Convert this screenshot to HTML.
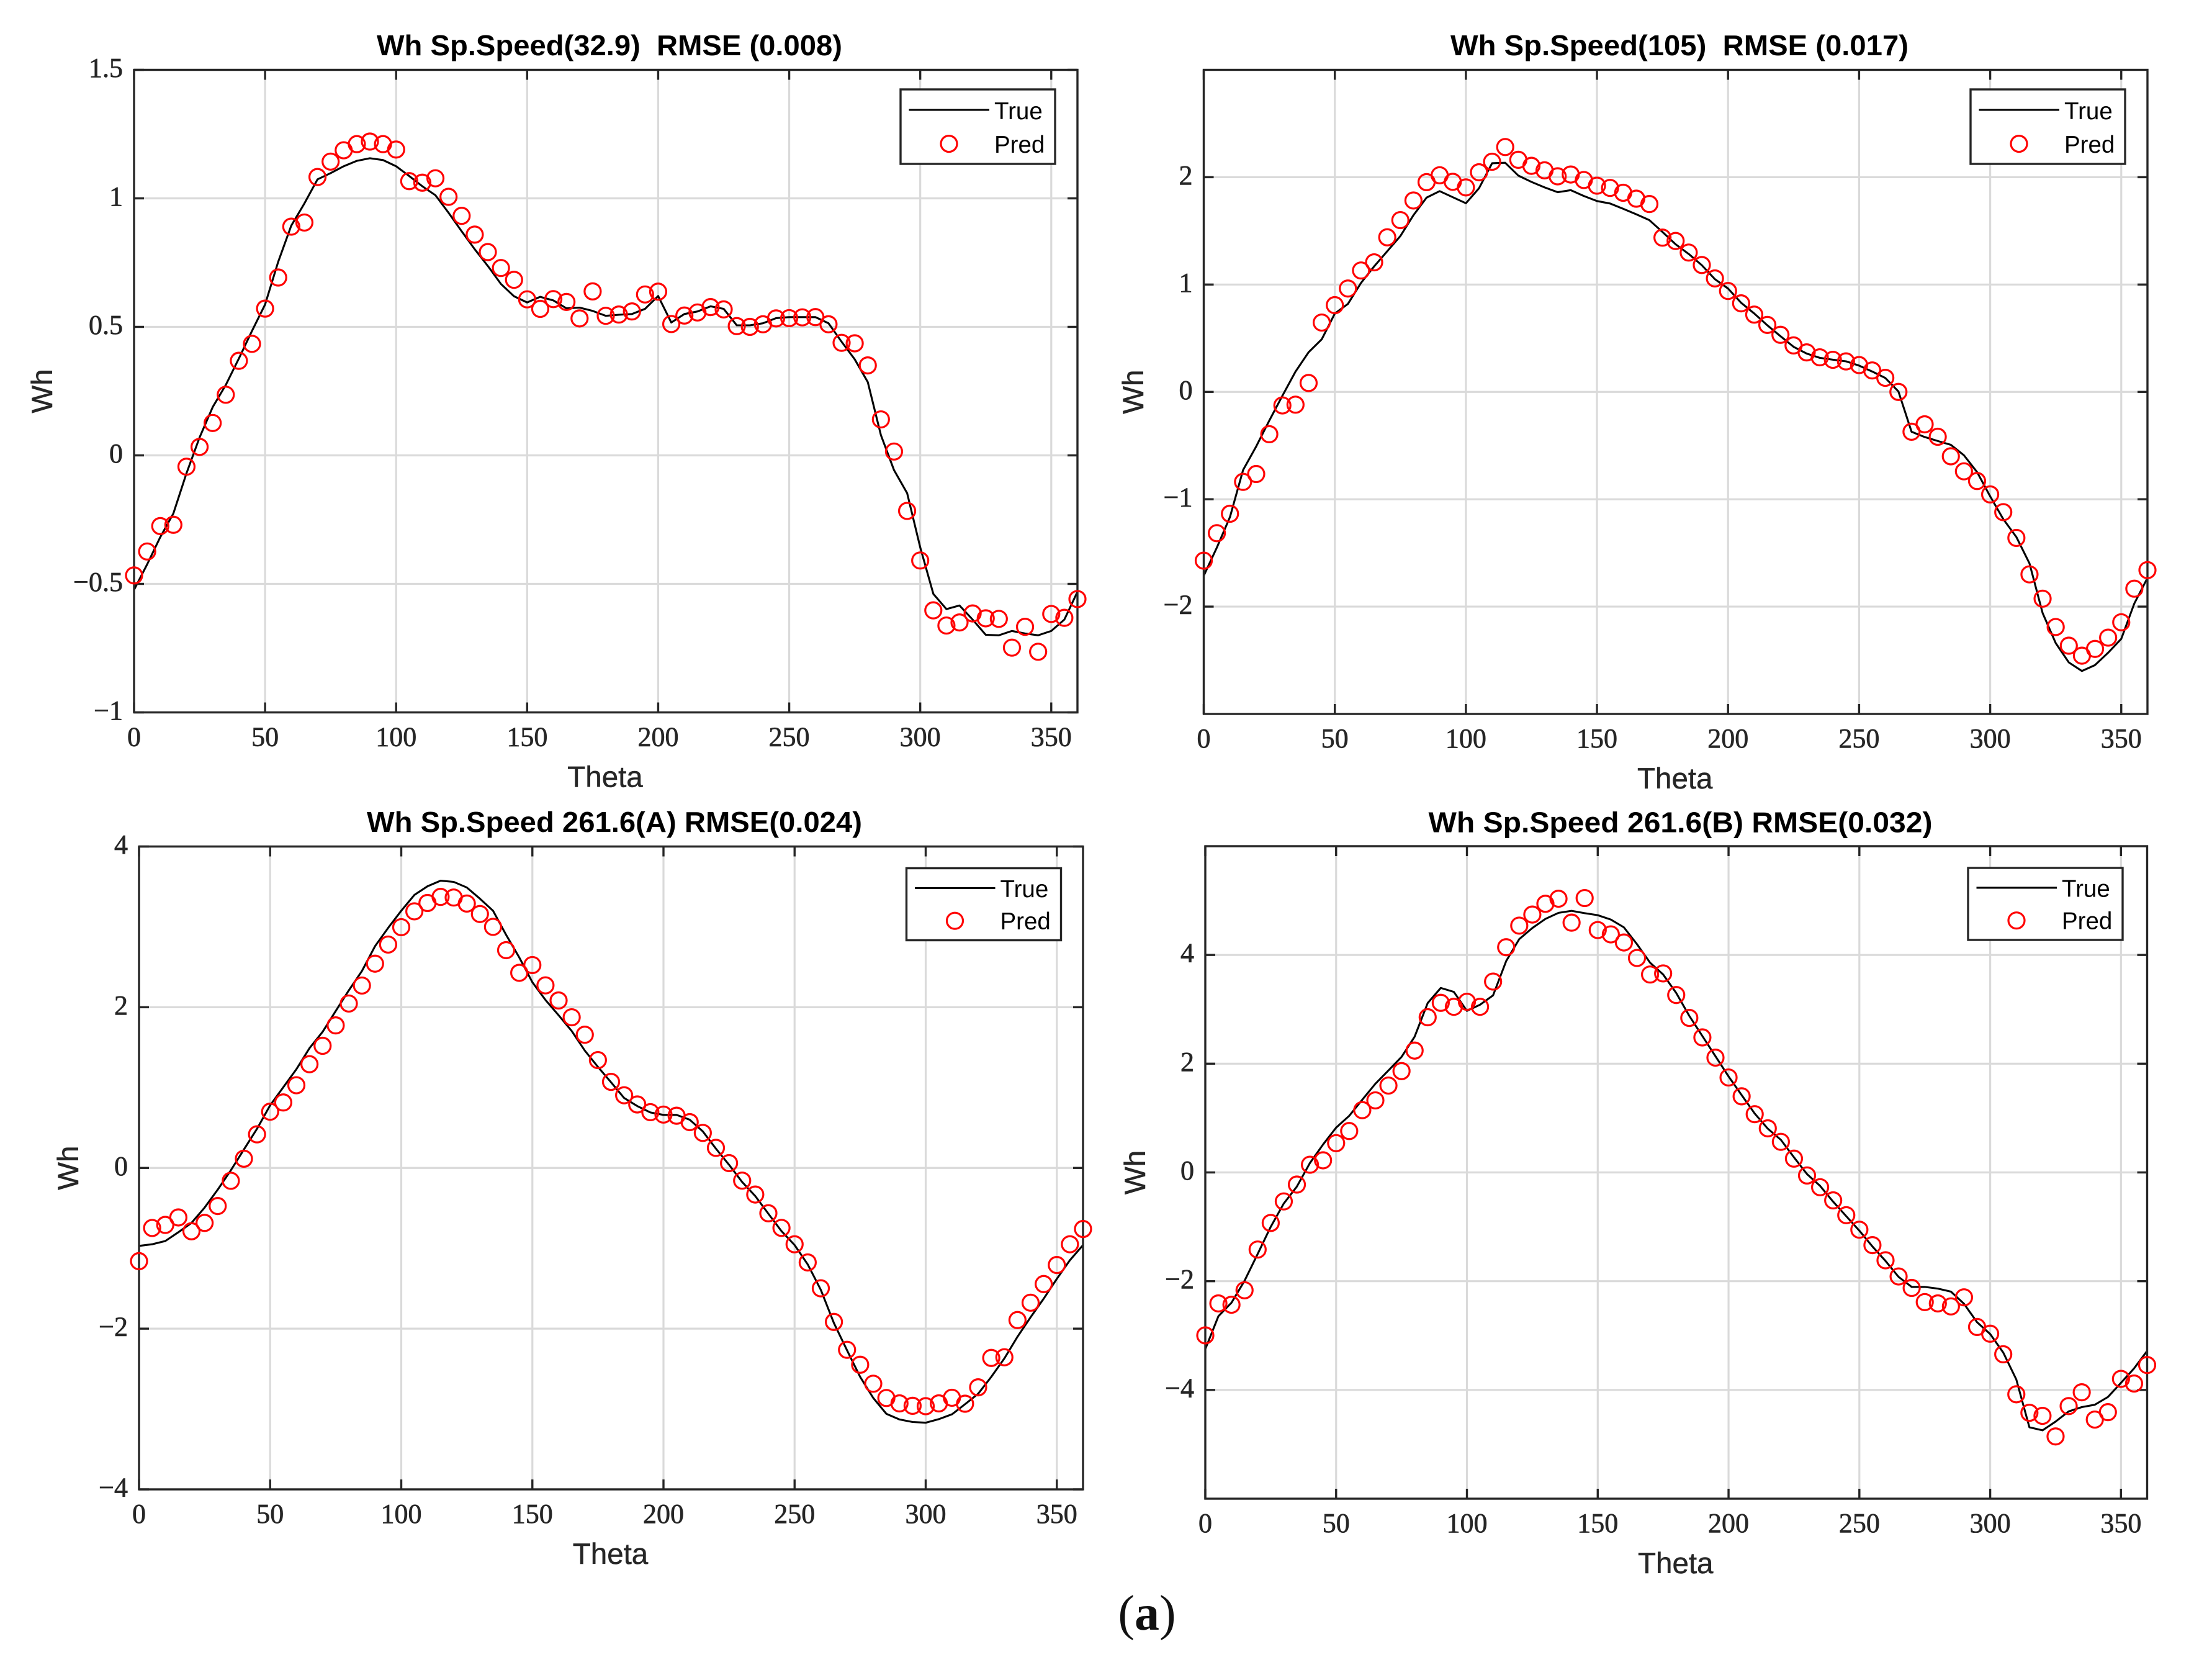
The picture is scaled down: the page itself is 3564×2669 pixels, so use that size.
<!DOCTYPE html>
<html lang="en">
<head>
<meta charset="utf-8">
<title>Wh prediction versus truth at four speeds</title>
<style>
html,body{margin:0;padding:0;background:#fff;}
#figure{display:block;width:3564px;height:2669px;}
text{white-space:pre;}
.tick-label{font-family:"Liberation Serif",serif;font-size:44px;fill:#262626;stroke:#262626;stroke-width:0.7px;}
.axis-label{font-family:"Liberation Sans",sans-serif;font-size:47.5px;fill:#262626;stroke:#262626;stroke-width:0.5px;}
.panel-title{font-family:"Liberation Sans",sans-serif;font-size:46px;font-weight:bold;fill:#000;}
.legend-label{font-family:"Liberation Sans",sans-serif;font-size:38.5px;fill:#000;}
.caption{font-family:"Liberation Serif",serif;font-size:80px;fill:#111;}
</style>
</head>
<body>
<svg id="figure" xmlns="http://www.w3.org/2000/svg" width="3564" height="2669" viewBox="0 0 3564 2669">
<rect x="0" y="0" width="3564" height="2669" fill="#ffffff"/>
<text class="caption" x="1848" y="2625" text-anchor="middle">(<tspan font-weight="bold">a</tspan>)</text>
</svg>
<script>
const thetaValues = [0,5,10,15,20,25,30,35,40,45,50,55,60,65,70,75,80,85,90,95,100,105,110,115,120,125,130,135,140,145,150,155,160,165,170,175,180,185,190,195,200,205,210,215,220,225,230,235,240,245,250,255,260,265,270,275,280,285,290,295,300,305,310,315,320,325,330,335,340,345,350,355,360];
const xTickValues = [0,50,100,150,200,250,300,350];

const yTicksA = [-1,-0.5,0,0.5,1,1.5];
const yTicksB = [-2,-1,0,1,2];
const yTicksC = [-4,-2,0,2,4];
const yTicksD = [-4,-2,0,2,4];

const trueA = [-0.523,-0.424,-0.318,-0.226,-0.07,0.07,0.188,0.274,0.377,0.484,0.587,0.753,0.894,0.98,1.074,1.098,1.125,1.146,1.156,1.149,1.125,1.087,1.047,1.012,0.944,0.872,0.802,0.737,0.667,0.619,0.595,0.617,0.603,0.572,0.575,0.562,0.543,0.547,0.55,0.57,0.62,0.517,0.55,0.56,0.58,0.57,0.506,0.506,0.514,0.534,0.538,0.538,0.538,0.514,0.442,0.374,0.285,0.079,-0.057,-0.147,-0.358,-0.539,-0.598,-0.584,-0.639,-0.698,-0.7,-0.683,-0.693,-0.7,-0.683,-0.639,-0.531];
const predA = [-0.467,-0.374,-0.275,-0.27,-0.044,0.033,0.126,0.236,0.368,0.434,0.571,0.692,0.89,0.906,1.083,1.143,1.187,1.211,1.221,1.211,1.19,1.067,1.061,1.078,1.006,0.932,0.859,0.791,0.729,0.683,0.607,0.57,0.608,0.597,0.533,0.638,0.543,0.548,0.56,0.626,0.637,0.511,0.544,0.556,0.577,0.568,0.503,0.5,0.51,0.533,0.534,0.537,0.538,0.51,0.438,0.436,0.35,0.14,0.015,-0.216,-0.409,-0.603,-0.662,-0.65,-0.615,-0.634,-0.636,-0.748,-0.667,-0.764,-0.617,-0.632,-0.559];

const trueB = [-1.712,-1.45,-1.166,-0.727,-0.508,-0.267,-0.036,0.189,0.369,0.49,0.73,0.82,1.015,1.169,1.311,1.452,1.646,1.81,1.87,1.814,1.757,1.897,2.13,2.134,2.015,1.956,1.905,1.86,1.879,1.825,1.778,1.755,1.706,1.654,1.6,1.49,1.375,1.285,1.18,1.05,0.963,0.83,0.73,0.62,0.519,0.42,0.357,0.317,0.3,0.285,0.245,0.19,0.13,0.004,-0.371,-0.42,-0.457,-0.493,-0.59,-0.747,-0.973,-1.185,-1.352,-1.597,-2.06,-2.34,-2.52,-2.6,-2.545,-2.43,-2.3,-1.97,-1.734];
const predB = [-1.572,-1.316,-1.135,-0.838,-0.765,-0.394,-0.126,-0.119,0.083,0.646,0.808,0.963,1.131,1.207,1.44,1.6,1.783,1.954,2.018,1.957,1.905,2.046,2.144,2.281,2.162,2.106,2.064,2.008,2.025,1.974,1.921,1.9,1.855,1.8,1.75,1.437,1.406,1.298,1.182,1.057,0.94,0.825,0.72,0.624,0.532,0.433,0.368,0.322,0.299,0.284,0.25,0.2,0.131,0,-0.371,-0.302,-0.418,-0.6,-0.74,-0.83,-0.955,-1.12,-1.36,-1.7,-1.926,-2.19,-2.364,-2.457,-2.394,-2.289,-2.146,-1.833,-1.66];

const trueC = [-0.97,-0.95,-0.91,-0.8,-0.684,-0.494,-0.27,-0.03,0.23,0.487,0.78,1.004,1.228,1.49,1.694,1.953,2.21,2.45,2.76,2.987,3.2,3.397,3.505,3.574,3.56,3.49,3.35,3.2,2.9,2.62,2.31,2.09,1.9,1.705,1.46,1.257,1.066,0.87,0.77,0.69,0.66,0.66,0.6,0.455,0.24,0.04,-0.175,-0.35,-0.57,-0.785,-0.96,-1.2,-1.517,-1.93,-2.27,-2.6,-2.863,-3.06,-3.13,-3.162,-3.17,-3.126,-3.066,-2.94,-2.81,-2.6,-2.37,-2.1,-1.858,-1.627,-1.38,-1.148,-0.96];
const predC = [-1.16,-0.747,-0.709,-0.616,-0.788,-0.684,-0.474,-0.16,0.115,0.418,0.7,0.815,1.029,1.291,1.52,1.774,2.046,2.27,2.542,2.78,2.996,3.193,3.297,3.373,3.365,3.29,3.16,3,2.71,2.428,2.525,2.272,2.084,1.875,1.658,1.342,1.071,0.904,0.79,0.694,0.664,0.65,0.57,0.436,0.25,0.06,-0.158,-0.331,-0.564,-0.746,-0.95,-1.176,-1.498,-1.916,-2.263,-2.449,-2.685,-2.863,-2.93,-2.96,-2.965,-2.93,-2.86,-2.934,-2.73,-2.364,-2.356,-1.893,-1.677,-1.445,-1.208,-0.95,-0.76];

const trueD = [-3.25,-2.644,-2.396,-1.994,-1.5,-1,-0.57,-0.26,0.173,0.514,0.824,1.04,1.337,1.63,1.876,2.124,2.495,3.115,3.393,3.32,2.972,3.084,3.257,3.889,4.291,4.495,4.663,4.774,4.811,4.768,4.731,4.65,4.508,4.198,3.858,3.64,3.3,2.879,2.508,2.136,1.765,1.424,1.084,0.805,0.6,0.279,-0.031,-0.248,-0.539,-0.805,-1.071,-1.362,-1.628,-1.92,-2.105,-2.105,-2.136,-2.192,-2.415,-2.755,-2.972,-3.313,-3.808,-4.687,-4.743,-4.582,-4.396,-4.316,-4.272,-4.13,-3.87,-3.604,-3.282];
const predD = [-2.997,-2.409,-2.433,-2.167,-1.418,-0.929,-0.533,-0.223,0.142,0.223,0.539,0.762,1.146,1.325,1.598,1.864,2.241,2.854,3.12,3.046,3.139,3.046,3.51,4.142,4.539,4.743,4.941,5.034,4.594,5.046,4.458,4.378,4.229,3.944,3.64,3.66,3.263,2.842,2.483,2.111,1.746,1.4,1.071,0.811,0.563,0.254,-0.056,-0.272,-0.514,-0.786,-1.053,-1.337,-1.616,-1.913,-2.124,-2.384,-2.409,-2.464,-2.297,-2.842,-2.966,-3.344,-4.08,-4.42,-4.477,-4.855,-4.297,-4.043,-4.545,-4.409,-3.796,-3.882,-3.542];

const titleA = "Wh Sp.Speed(32.9)  RMSE (0.008)";
const titleB = "Wh Sp.Speed(105)  RMSE (0.017)";
const titleC = "Wh Sp.Speed 261.6(A) RMSE(0.024)";
const titleD = "Wh Sp.Speed 261.6(B) RMSE(0.032)";

const svgNS = "http://www.w3.org/2000/svg";
const figure = document.getElementById("figure");

function make(parent, tag, props, content) {
  const el = document.createElementNS(svgNS, tag);
  for (const k in props) el.setAttribute(k, props[k]);
  if (content !== undefined) el.textContent = content;
  parent.appendChild(el);
  return el;
}

function formatTick(v) {
  return v < 0 ? "\u2212" + Math.abs(v) : String(v);
}

function drawPanel(cfg) {
  const g = make(figure, "g", {});
  
  

  const L = cfg.left, R = cfg.right, T = cfg.top, B = cfg.bottom;
  const xScale = function (v) { return L + (v - 0) / (360 - 0) * (R - L); };
  const yScale = function (v) { return B - (v - cfg.yMin) / (cfg.yMax - cfg.yMin) * (B - T); };

  const gridColor = "#dadada";
  const axisColor = "#262626";

  cfg.xTicks.forEach(function (v) {
    const x = xScale(v);
    if (v !== 0) {
      const gl = make(g, "line", {x1: x, x2: x, y1: T, y2: B, stroke: gridColor, "stroke-width": 3.2});
      
      
    }
  });
  cfg.yTicks.forEach(function (v) {
    const y = yScale(v);
    const gl = make(g, "line", {x1: L, x2: R, y1: y, y2: y, stroke: gridColor, "stroke-width": 3.2});
    
    
  });

  const pts = cfg.theta.map(function (t, i) { return xScale(t).toFixed(1) + "," + yScale(cfg.trueValues[i]).toFixed(1); }).join(" ");
  const line = make(g, "polyline", {points: pts, fill: "none", stroke: "#000", "stroke-width": 3.1, "stroke-linejoin": "round"});
  
  

  const box = make(g, "rect", {x: L, y: T, width: R - L, height: B - T, fill: "none", stroke: axisColor, "stroke-width": 3.4});
  
  

  cfg.xTicks.forEach(function (v) {
    const x = xScale(v);
    const t1 = make(g, "line", {x1: x, x2: x, y1: B, y2: B - 16, stroke: axisColor, "stroke-width": 3.4});
    
    
    const t2 = make(g, "line", {x1: x, x2: x, y1: T, y2: T + 16, stroke: axisColor, "stroke-width": 3.4});
    
    
    const lab = make(g, "text", {x: x, y: B + 54, "text-anchor": "middle", class: "tick-label"}, formatTick(v));
    
    
  });
  cfg.yTicks.forEach(function (v) {
    const y = yScale(v);
    const t1 = make(g, "line", {x1: L, x2: L + 16, y1: y, y2: y, stroke: axisColor, "stroke-width": 3.4});
    
    
    const t2 = make(g, "line", {x1: R, x2: R - 16, y1: y, y2: y, stroke: axisColor, "stroke-width": 3.4});
    
    
    const lab = make(g, "text", {x: L - 18, y: y + 11.5, "text-anchor": "end", class: "tick-label"}, formatTick(v));
    
    
  });

  cfg.theta.forEach(function (t, i) {
    const c = make(g, "circle", {cx: xScale(t), cy: yScale(cfg.predValues[i]), r: 13, fill: "none", stroke: "#ff0000", "stroke-width": 3.2});
    
    
  });

  const title = make(g, "text", {x: cfg.titleStart, y: cfg.titleBaseline, class: "panel-title", textLength: cfg.titleWidth, lengthAdjust: "spacingAndGlyphs"}, cfg.title);
  
  

  const xLabel = make(g, "text", {x: (L + R) / 2 - 1, y: B + 120, "text-anchor": "middle", class: "axis-label"}, "Theta");
  
  

  const yLabel = make(g, "text", {transform: "translate(" + cfg.yLabelX + " " + (T + B) / 2 + ") rotate(-90)", "text-anchor": "middle", class: "axis-label"}, "Wh");
  
  

  const lx = cfg.legendLeft, ly = cfg.legendTop, lh = cfg.legendHeight;
  const legend = make(g, "g", {});
  
  
  const lbox = make(legend, "rect", {x: lx, y: ly, width: 249, height: lh, fill: "#fff", stroke: axisColor, "stroke-width": 3.4});
  
  
  const lline = make(legend, "line", {x1: lx + 13.5, x2: lx + 143, y1: ly + lh * 0.275, y2: ly + lh * 0.275, stroke: "#000", "stroke-width": 3.1});
  
  
  const lcirc = make(legend, "circle", {cx: lx + 78, cy: ly + lh * 0.73, r: 13, fill: "none", stroke: "#ff0000", "stroke-width": 3.2});
  
  
  const ltrue = make(legend, "text", {x: lx + 151, y: ly + lh * 0.4, class: "legend-label"}, "True");
  
  
  const lpred = make(legend, "text", {x: lx + 151, y: ly + lh * 0.85, class: "legend-label"}, "Pred");
  
  
}

drawPanel({left: 216, right: 1736, top: 112.5, bottom: 1147.5, yMin: -1, yMax: 1.5, theta: thetaValues, trueValues: trueA, predValues: predA, xTicks: xTickValues, yTicks: yTicksA, title: titleA, titleStart: 607, titleWidth: 750, titleBaseline: 89, yLabelX: 84, legendLeft: 1451, legendTop: 144, legendHeight: 120});
drawPanel({left: 1939.5, right: 3460, top: 112.5, bottom: 1150, yMin: -3, yMax: 3, theta: thetaValues, trueValues: trueB, predValues: predB, xTicks: xTickValues, yTicks: yTicksB, title: titleB, titleStart: 2337, titleWidth: 738, titleBaseline: 89, yLabelX: 1842, legendLeft: 3175, legendTop: 144, legendHeight: 120});
drawPanel({left: 224, right: 1745, top: 1363.5, bottom: 2399, yMin: -4, yMax: 4, theta: thetaValues, trueValues: trueC, predValues: predC, xTicks: xTickValues, yTicks: yTicksC, title: titleC, titleStart: 591, titleWidth: 798, titleBaseline: 1340, yLabelX: 126, legendLeft: 1460.5, legendTop: 1398.5, legendHeight: 116});
drawPanel({left: 1942, right: 3459.5, top: 1363, bottom: 2414, yMin: -6, yMax: 6, theta: thetaValues, trueValues: trueD, predValues: predD, xTicks: xTickValues, yTicks: yTicksD, title: titleD, titleStart: 2301.5, titleWidth: 812, titleBaseline: 1340.5, yLabelX: 1845, legendLeft: 3171, legendTop: 1398, legendHeight: 116});
</script>
</body>
</html>
